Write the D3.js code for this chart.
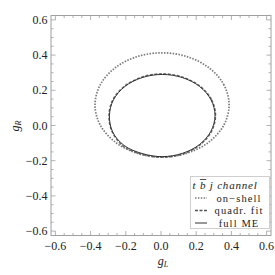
<!DOCTYPE html>
<html><head><meta charset="utf-8">
<script src="https://cdn.jsdelivr.net/npm/d3@7"></script>
<style>body{margin:0;background:#fff}svg{display:block}</style>
</head><body>
<svg id="c" width="275" height="275"></svg>
<script>
// Data: closed contours (gL, gR)
const onShell = [
 [0.387,0.117],[0.358,0.230],[0.275,0.326],[0.152,0.390],[0.006,0.413],[-0.140,0.390],
 [-0.263,0.326],[-0.346,0.230],[-0.375,0.117],[-0.346,0.004],[-0.263,-0.092],[-0.140,-0.156],
 [0.006,-0.179],[0.152,-0.156],[0.275,-0.092],[0.358,0.004]
];
const quadrFit = [
 [0.310,0.057],[0.287,0.148],[0.221,0.224],[0.123,0.275],[0.007,0.294],[-0.109,0.275],
 [-0.207,0.224],[-0.273,0.148],[-0.296,0.057],[-0.278,-0.035],[-0.215,-0.117],[-0.110,-0.163],
 [0.007,-0.181],[0.123,-0.162],[0.221,-0.111],[0.287,-0.034]
];
const fullME = [
 [0.307,0.057],[0.284,0.146],[0.219,0.222],[0.122,0.272],[0.007,0.290],[-0.108,0.272],
 [-0.205,0.222],[-0.270,0.146],[-0.293,0.057],[-0.275,-0.036],[-0.210,-0.113],[-0.108,-0.159],
 [0.007,-0.177],[0.122,-0.158],[0.219,-0.108],[0.284,-0.032]
];
const majorTicks = [-0.6,-0.4,-0.2,0.0,0.2,0.4,0.6];
const minorTicks = d3.range(-12,13).map(i=>i*0.05);
const legendLabels = ["on\u2212shell","quadr. fit","full ME"];

const svg = d3.select("#c");
const x = d3.scaleLinear().domain([-0.625,0.625]).range([51,271]);
const y = d3.scaleLinear().domain([-0.625,0.625]).range([235.5,15.5]);
const frameCol = "#a0a0a0";
const font = "'Liberation Serif','DejaVu Serif',serif";
const fmt = v => (Math.abs(v)<1e-9 ? "0.0" : d3.format(".1f")(v)).replace("-","\u2212");

// frame
svg.append("rect").attr("x",51).attr("y",15.5).attr("width",220).attr("height",220)
  .attr("fill","none").attr("stroke",frameCol).attr("stroke-width",1);

// ticks
const tk = svg.append("g").attr("stroke",frameCol).attr("stroke-width",0.8);
minorTicks.forEach(v=>{
  const isMaj = majorTicks.some(m=>Math.abs(m-v)<1e-9);
  const L = isMaj?4.5:2.5;
  const px = x(v), py = y(v);
  tk.append("line").attr("x1",px).attr("x2",px).attr("y1",235.5).attr("y2",235.5-L);
  tk.append("line").attr("x1",px).attr("x2",px).attr("y1",15.5).attr("y2",15.5+L);
  tk.append("line").attr("y1",py).attr("y2",py).attr("x1",51).attr("x2",51+L);
  tk.append("line").attr("y1",py).attr("y2",py).attr("x1",271).attr("x2",271-L);
});

// tick labels
majorTicks.forEach(v=>{
  svg.append("text").attr("x",x(v)).attr("y",249.5).attr("text-anchor","middle")
    .attr("font-family",font).attr("font-size",12).attr("fill","#222").text(fmt(v));
  svg.append("text").attr("x",47.5).attr("y",y(v)+4).attr("text-anchor","end")
    .attr("font-family",font).attr("font-size",12).attr("fill","#222").text(fmt(v));
});

// axis titles
const gl = svg.append("text").attr("x",163).attr("y",265).attr("text-anchor","middle")
  .attr("font-family",font).attr("font-size",12).attr("font-style","italic").attr("fill","#222");
gl.append("tspan").text("g");
gl.append("tspan").attr("font-size",8).attr("dy",2).text("L");
const gr = svg.append("text").attr("transform","translate(19,126) rotate(-90)").attr("text-anchor","middle")
  .attr("font-family",font).attr("font-size",12).attr("font-style","italic").attr("fill","#222");
gr.append("tspan").text("g");
gr.append("tspan").attr("font-size",8).attr("dy",2).text("R");

// curves
const line = d3.line().x(d=>x(d[0])).y(d=>y(d[1])).curve(d3.curveCatmullRomClosed);
const plot = svg.append("g");
plot.append("path").datum(onShell).attr("d",line).attr("fill","none")
  .attr("stroke","#7a7a7a").attr("stroke-width",1.7).attr("stroke-dasharray","1.5,1.4");
plot.append("path").datum(quadrFit).attr("d",line).attr("fill","none")
  .attr("stroke","#6a6a6a").attr("stroke-width",1.4).attr("stroke-dasharray","3,1.5");
plot.append("path").datum(fullME).attr("d",line).attr("fill","none")
  .attr("stroke","#222").attr("stroke-width",0.9);

// legend
const lg = svg.append("g");
lg.append("rect").attr("x",190.5).attr("y",176.5).attr("width",79).attr("height",52)
  .attr("fill","#fff").attr("stroke","#cfcfcf").attr("stroke-width",1);
const title = lg.append("text").attr("x",192.5).attr("y",189).attr("font-family",font)
  .attr("font-size",11).attr("font-style","italic").attr("letter-spacing",0.8).attr("fill","#222")
  .attr("xml:space","preserve").text("t b j channel");
const tn = title.node();
const bx = tn.getStartPositionOfChar(2).x, bw = tn.getSubStringLength(2,1);
lg.append("line").attr("x1",bx).attr("x2",bx+bw).attr("y1",179.5).attr("y2",179.5)
  .attr("stroke","#222").attr("stroke-width",0.8);
const styles = [
  {c:"#7a7a7a",w:1.6,d:"1.5,1.4"},
  {c:"#555",w:1.3,d:"3,1.5"},
  {c:"#333",w:1,d:null}
];
legendLabels.forEach((t,i)=>{
  const yy = 198 + i*12.5;
  const s = styles[i];
  const l = lg.append("line").attr("x1",195).attr("x2",207).attr("y1",yy).attr("y2",yy)
    .attr("stroke",s.c).attr("stroke-width",s.w);
  if(s.d) l.attr("stroke-dasharray",s.d);
  lg.append("text").attr("x",239).attr("y",yy+3.5).attr("text-anchor","middle")
    .attr("font-family",font).attr("font-size",10.5).attr("letter-spacing",1.1).attr("fill","#222").text(t);
});
</script>
</body></html>
